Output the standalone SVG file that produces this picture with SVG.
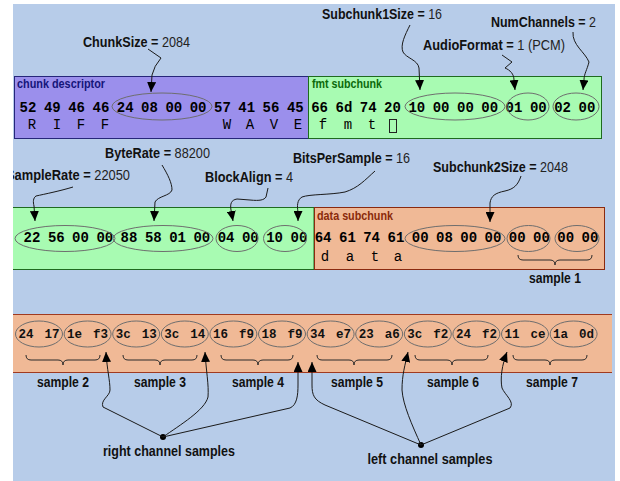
<svg xmlns="http://www.w3.org/2000/svg" width="620" height="481" viewBox="0 0 620 481">
  <style>
    .lbl { font-family: "Liberation Sans Narrow", "Liberation Sans", Arial, sans-serif; font-size: 15px; fill: #111; }
    .b { font-weight: bold; }
    .v { font-weight: normal; fill: #222; }
    .title { font-family: "Liberation Sans Narrow", "Liberation Sans", Arial, sans-serif; font-size: 12px; font-weight: bold; }
    .hex { font-family: "Liberation Mono", "Courier New", monospace; font-size: 14px; font-weight: bold; fill: #000; text-anchor: middle; }
    .hex3 { font-family: "Liberation Mono", "Courier New", monospace; font-size: 12.5px; font-weight: bold; fill: #111; text-anchor: middle; }
    .asc { font-family: "Liberation Mono", "Courier New", monospace; font-size: 14px; fill: #000; text-anchor: middle; }
    .ell { fill: none; stroke: #6e6e6e; stroke-width: 1; }
    .wire { fill: none; stroke: #1a1a1a; stroke-width: 1; }
    .arr { marker-end: url(#head); }
    .brace { fill: none; stroke: #2a2a2a; stroke-width: 1; }
  </style>
  <defs>
    <marker id="head" markerUnits="userSpaceOnUse" markerWidth="10" markerHeight="9" refX="10" refY="4.5" orient="auto">
      <path d="M0,0 L10,4.5 L0,9 z" fill="#000"/>
    </marker>
    <clipPath id="frame"><rect x="13" y="4" width="602" height="477"/></clipPath>
  </defs>

  <rect width="620" height="481" fill="#fff"/>
  <g clip-path="url(#frame)">
    <rect x="13" y="4" width="602" height="477" fill="#b7cce9"/>

    <!-- RIFF chunk descriptor -->
    <g id="chunk-descriptor">
      <rect x="14.5" y="76.5" width="294" height="62" fill="#9b8fec" stroke="#26267a"/>
      <text class="title" x="17" y="88" fill="#15157a" textLength="88" lengthAdjust="spacingAndGlyphs">chunk descriptor</text>
      <text class="hex" y="112"><tspan x="28">52</tspan><tspan x="52.3">49</tspan><tspan x="76.6">46</tspan><tspan x="100.9">46</tspan><tspan x="125.2">24</tspan><tspan x="149.5">08</tspan><tspan x="173.8">00</tspan><tspan x="198.1">00</tspan><tspan x="222.4">57</tspan><tspan x="246.7">41</tspan><tspan x="271">56</tspan><tspan x="295.3">45</tspan></text>
      <text class="asc" y="129"><tspan x="32">R</tspan><tspan x="57">I</tspan><tspan x="81">F</tspan><tspan x="105">F</tspan><tspan x="227">W</tspan><tspan x="250">A</tspan><tspan x="274">V</tspan><tspan x="298">E</tspan></text>
      <ellipse class="ell" cx="162" cy="106.5" rx="50" ry="13.5"/>
    </g>

    <!-- fmt sub-chunk (first row) -->
    <g id="fmt-subchunk">
      <rect x="308.5" y="76.5" width="293" height="62" fill="#a8fbb2" stroke="#1f6a1f"/>
      <text class="title" x="312" y="88" fill="#0b6a0b" textLength="70" lengthAdjust="spacingAndGlyphs">fmt subchunk</text>
      <text class="hex" y="112"><tspan x="319.6">66</tspan><tspan x="343.9">6d</tspan><tspan x="368.2">74</tspan><tspan x="392.5">20</tspan><tspan x="416.8">10</tspan><tspan x="441.1">00</tspan><tspan x="465.4">00</tspan><tspan x="489.7">00</tspan><tspan x="514">01</tspan><tspan x="538.3">00</tspan><tspan x="562.6">02</tspan><tspan x="586.9">00</tspan></text>
      <text class="asc" y="129"><tspan x="323">f</tspan><tspan x="348">m</tspan><tspan x="372">t</tspan></text>
      <rect x="389.5" y="119.5" width="7" height="13" fill="none" stroke="#222"/>
      <ellipse class="ell" cx="455" cy="106.5" rx="50" ry="13.5"/>
      <ellipse class="ell" cx="528" cy="106.5" rx="21" ry="13.5"/>
      <ellipse class="ell" cx="576" cy="106.5" rx="23" ry="13.5"/>
    </g>

    <!-- fmt sub-chunk (second row) -->
    <g id="fmt-subchunk-cont">
      <rect x="5" y="207.5" width="309" height="62" fill="#a8fbb2" stroke="#1f6a1f"/>
      <text class="hex" y="242"><tspan x="32">22</tspan><tspan x="56.3">56</tspan><tspan x="80.5">00</tspan><tspan x="104.8">00</tspan><tspan x="129">88</tspan><tspan x="153.3">58</tspan><tspan x="177.6">01</tspan><tspan x="201.8">00</tspan><tspan x="226.1">04</tspan><tspan x="250.3">00</tspan><tspan x="274.6">10</tspan><tspan x="298.9">00</tspan></text>
      <ellipse class="ell" cx="65" cy="238.5" rx="50" ry="13"/>
      <ellipse class="ell" cx="163" cy="238.5" rx="50" ry="13"/>
      <ellipse class="ell" cx="237" cy="238.5" rx="21" ry="13"/>
      <ellipse class="ell" cx="285" cy="238.5" rx="21.5" ry="13"/>
    </g>

    <!-- data sub-chunk -->
    <g id="data-subchunk">
      <rect x="314.5" y="207.5" width="290" height="62" fill="#f0b996" stroke="#8a2a10"/>
      <text class="title" x="317" y="220" fill="#8a2a0a" textLength="76" lengthAdjust="spacingAndGlyphs">data subchunk</text>
      <text class="hex" y="242"><tspan x="323.1">64</tspan><tspan x="347.4">61</tspan><tspan x="371.6">74</tspan><tspan x="395.9">61</tspan><tspan x="420.2">00</tspan><tspan x="444.4">08</tspan><tspan x="468.7">00</tspan><tspan x="492.9">00</tspan><tspan x="517.2">00</tspan><tspan x="541.5">00</tspan><tspan x="565.7">00</tspan><tspan x="590">00</tspan></text>
      <text class="asc" y="261"><tspan x="325">d</tspan><tspan x="350">a</tspan><tspan x="375">t</tspan><tspan x="398">a</tspan></text>
      <ellipse class="ell" cx="455" cy="238.5" rx="50" ry="13"/>
      <ellipse class="ell" cx="528.5" cy="238.5" rx="21.5" ry="13"/>
      <ellipse class="ell" cx="577" cy="238.5" rx="22" ry="13"/>
      <path class="brace" d="M518,255 Q518,260 523,260 L550,260 Q555,260 555,265 Q555,260 560,260 L587,260 Q592,260 592,255"/>
      <text class="lbl b" x="555" y="283" text-anchor="middle" textLength="52" lengthAdjust="spacingAndGlyphs">sample 1</text>
    </g>

    <!-- sample data band -->
    <g id="samples">
      <rect x="5" y="314.5" width="607" height="58" fill="#f0b996"/>
      <line x1="5" y1="314.5" x2="612" y2="314.5" stroke="#a03a20"/>
      <line x1="5" y1="372.5" x2="612" y2="372.5" stroke="#a03a20"/>
      <g>
        <ellipse class="ell" cx="39" cy="334" rx="23.5" ry="13"/>
        <ellipse class="ell" cx="87.6" cy="334" rx="23.5" ry="13"/>
        <ellipse class="ell" cx="136.2" cy="334" rx="23.5" ry="13"/>
        <ellipse class="ell" cx="184.8" cy="334" rx="23.5" ry="13"/>
        <ellipse class="ell" cx="233.4" cy="334" rx="23.5" ry="13"/>
        <ellipse class="ell" cx="282" cy="334" rx="23.5" ry="13"/>
        <ellipse class="ell" cx="330.6" cy="334" rx="23.5" ry="13"/>
        <ellipse class="ell" cx="379.2" cy="334" rx="23.5" ry="13"/>
        <ellipse class="ell" cx="427.8" cy="334" rx="23.5" ry="13"/>
        <ellipse class="ell" cx="476.4" cy="334" rx="23.5" ry="13"/>
        <ellipse class="ell" cx="525" cy="334" rx="23.5" ry="13"/>
        <ellipse class="ell" cx="573.6" cy="334" rx="23.5" ry="13"/>
      </g>
      <text class="hex3" y="338"><tspan x="26">24</tspan><tspan x="52">17</tspan><tspan x="74.6">1e</tspan><tspan x="100.6">f3</tspan><tspan x="123.2">3c</tspan><tspan x="149.2">13</tspan><tspan x="171.8">3c</tspan><tspan x="197.8">14</tspan><tspan x="220.4">16</tspan><tspan x="246.4">f9</tspan><tspan x="269">18</tspan><tspan x="295">f9</tspan><tspan x="317.6">34</tspan><tspan x="343.6">e7</tspan><tspan x="366.2">23</tspan><tspan x="392.2">a6</tspan><tspan x="414.8">3c</tspan><tspan x="440.8">f2</tspan><tspan x="463.4">24</tspan><tspan x="489.4">f2</tspan><tspan x="512">11</tspan><tspan x="538">ce</tspan><tspan x="560.6">1a</tspan><tspan x="586.6">0d</tspan></text>
      <path class="brace" d="M26,355 Q26,360 31,360 L58,360 Q63,360 63,365 Q63,360 68,360 L95,360 Q100,360 100,355"/>
      <path class="brace" d="M123,355 Q123,360 128,360 L155,360 Q160,360 160,365 Q160,360 165,360 L192,360 Q197,360 197,355"/>
      <path class="brace" d="M221,355 Q221,360 226,360 L253,360 Q258,360 258,365 Q258,360 263,360 L288,360 Q293,360 293,355"/>
      <path class="brace" d="M317,355 Q317,360 322,360 L349,360 Q354,360 354,365 Q354,360 359,360 L387,360 Q392,360 392,355"/>
      <path class="brace" d="M415,355 Q415,360 420,360 L447,360 Q452,360 452,365 Q452,360 457,360 L483,360 Q488,360 488,355"/>
      <path class="brace" d="M513,355 Q513,360 518,360 L545,360 Q550,360 550,365 Q550,360 555,360 L582,360 Q587,360 587,355"/>
      <text class="lbl b" x="63" y="387" text-anchor="middle" textLength="52" lengthAdjust="spacingAndGlyphs">sample 2</text>
      <text class="lbl b" x="160" y="387" text-anchor="middle" textLength="52" lengthAdjust="spacingAndGlyphs">sample 3</text>
      <text class="lbl b" x="258" y="387" text-anchor="middle" textLength="52" lengthAdjust="spacingAndGlyphs">sample 4</text>
      <text class="lbl b" x="357" y="387" text-anchor="middle" textLength="52" lengthAdjust="spacingAndGlyphs">sample 5</text>
      <text class="lbl b" x="453" y="387" text-anchor="middle" textLength="52" lengthAdjust="spacingAndGlyphs">sample 6</text>
      <text class="lbl b" x="552" y="387" text-anchor="middle" textLength="52" lengthAdjust="spacingAndGlyphs">sample 7</text>
    </g>

    <!-- field labels -->
    <g id="lbl-chunksize"><text class="lbl" x="83" y="47" textLength="107" lengthAdjust="spacingAndGlyphs"><tspan class="b">ChunkSize =</tspan><tspan class="v"> 2084</tspan></text></g>
    <g id="lbl-subchunk1size"><text class="lbl" x="322" y="19" textLength="120" lengthAdjust="spacingAndGlyphs"><tspan class="b">Subchunk1Size =</tspan><tspan class="v"> 16</tspan></text></g>
    <g id="lbl-numchannels"><text class="lbl" x="491" y="27" textLength="105" lengthAdjust="spacingAndGlyphs"><tspan class="b">NumChannels =</tspan><tspan class="v"> 2</tspan></text></g>
    <g id="lbl-audioformat"><text class="lbl" x="423" y="50" textLength="142" lengthAdjust="spacingAndGlyphs"><tspan class="b">AudioFormat =</tspan><tspan class="v"> 1 (PCM)</tspan></text></g>
    <g id="lbl-byterate"><text class="lbl" x="105" y="158" textLength="105" lengthAdjust="spacingAndGlyphs"><tspan class="b">ByteRate =</tspan><tspan class="v"> 88200</tspan></text></g>
    <g id="lbl-samplerate"><text class="lbl" x="6" y="180" textLength="124" lengthAdjust="spacingAndGlyphs"><tspan class="b">SampleRate =</tspan><tspan class="v"> 22050</tspan></text></g>
    <g id="lbl-blockalign"><text class="lbl" x="205" y="182" textLength="88" lengthAdjust="spacingAndGlyphs"><tspan class="b">BlockAlign =</tspan><tspan class="v"> 4</tspan></text></g>
    <g id="lbl-bitspersample"><text class="lbl" x="293" y="163" textLength="117" lengthAdjust="spacingAndGlyphs"><tspan class="b">BitsPerSample =</tspan><tspan class="v"> 16</tspan></text></g>
    <g id="lbl-subchunk2size"><text class="lbl" x="433" y="172" textLength="135" lengthAdjust="spacingAndGlyphs"><tspan class="b">Subchunk2Size =</tspan><tspan class="v"> 2048</tspan></text></g>
    <g id="lbl-right"><text class="lbl b" x="169" y="456" text-anchor="middle" textLength="132" lengthAdjust="spacingAndGlyphs">right channel samples</text><circle cx="163" cy="437" r="3" fill="#000"/></g>
    <g id="lbl-left"><text class="lbl b" x="430" y="464" text-anchor="middle" textLength="125" lengthAdjust="spacingAndGlyphs">left channel samples</text><circle cx="421" cy="445" r="3" fill="#000"/></g>

    <!-- connectors -->
    <g id="connectors">
      <path class="wire arr" d="M148,49 L161,58 Q154,66 152,75 L151,92"/>
      <path class="wire arr" d="M410,25 C405,35 400,45 403,52 C406,58 418,60 419,68 L420,90"/>
      <path class="wire arr" d="M502,55 L512,62 L505,68 C510,70 514,74 514,80 L515,90"/>
      <path class="wire arr" d="M573,32 C572,45 585,52 589,62 C587,70 584,74 584,80 L583,90"/>
      <path class="wire arr" d="M73,187 C60,191 45,194 36,196 C33,198 33,202 34,206 L35,221"/>
      <path class="wire arr" d="M162,165 C168,175 172,183 172,190 C170,196 158,196 155,202 L154,221"/>
      <path class="wire arr" d="M268,188 L266,197 C264,200 260,201 250,200 L237,199 C231,200 230,204 231,210 L233,221"/>
      <path class="wire arr" d="M375,171 C365,180 358,188 345,192 C330,195 310,194 302,197 C297,200 297,206 298,212 L298,221"/>
      <path class="wire arr" d="M521,176 C518,185 514,189 505,191 C495,193 491,196 490,203 L490,222"/>
      <path class="wire arr" d="M163,437 L103,407 C100,400 110,396 110,390 C110,380 107,370 106,352"/>
      <path class="wire arr" d="M163,437 C180,425 205,410 208,397 C209,385 206,370 205,352"/>
      <path class="wire arr" d="M163,437 L290,408 C297,405 298,395 298,385 L298,362"/>
      <path class="wire arr" d="M421,445 L325,405 C314,400 312,395 312,385 L312,362"/>
      <path class="wire arr" d="M421,445 C412,425 403,405 402,390 C402,375 405,365 408,352"/>
      <path class="wire arr" d="M421,445 L510,408 C515,402 505,395 502,388 C500,378 502,365 507,352"/>
    </g>
  </g>
</svg>
